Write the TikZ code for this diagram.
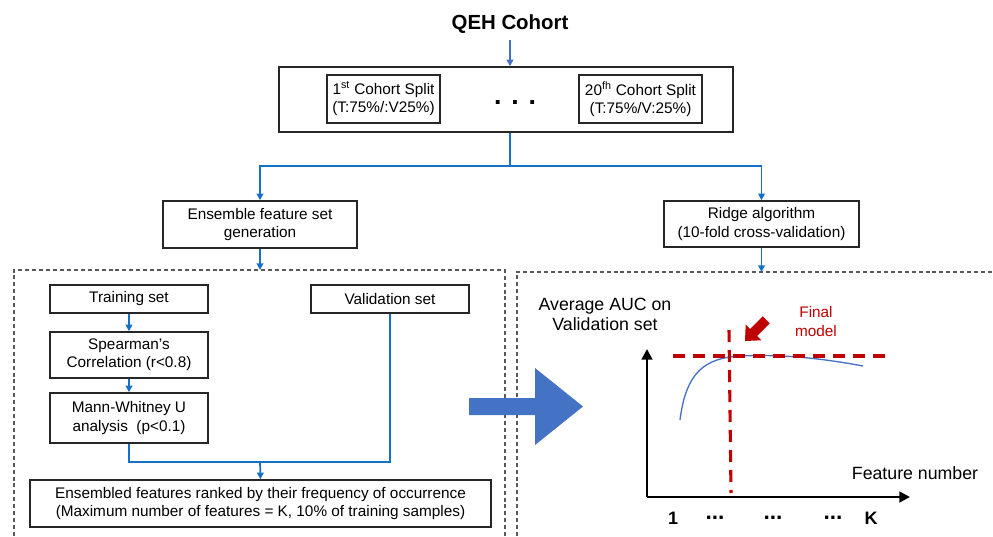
\documentclass[tikz,border=0pt]{standalone}
\usepackage{fontspec}
\setmainfont{Liberation Sans}
\usetikzlibrary{arrows.meta}
\definecolor{conblue}{RGB}{22,112,200}
\definecolor{lblue}{HTML}{4472C4}
\definecolor{dred}{HTML}{C00000}
\definecolor{bord}{HTML}{262626}
\definecolor{dgray}{HTML}{595959}
\begin{document}
\begin{tikzpicture}[x=0.75pt,y=-0.75pt,
  sz/.style 2 args={minimum width=#1*0.75pt, minimum height=#2*0.75pt},
  txt/.style={font=\fontsize{11.5}{13.8}\selectfont, align=center, inner sep=0pt},
  bigtxt/.style={font=\fontsize{13.3}{15.5}\selectfont, align=center, inner sep=0pt},
  bx/.style={txt, draw=bord, line width=1.1pt},
  tbx/.style={txt, draw=bord, line width=1.8pt},
  con/.style={draw=conblue, line width=1.3pt},
  arr/.style={con, -{Triangle[length=5pt,width=5pt]}},
  dashbox/.style={draw=dgray, line width=0.8pt, dash pattern=on 3pt off 2.2pt},
  reddash/.style={draw=dred, line width=2.3pt, dash pattern=on 9pt off 6pt},
  axis/.style={draw=black, line width=1.9pt, -{Triangle[length=8pt,width=8pt]}},
  ticklab/.style={font=\bfseries\fontsize{13.5}{16}\selectfont, inner sep=0pt},
  tickdots/.style={font=\bfseries\fontsize{17}{17}\selectfont, inner sep=0pt}]
\useasboundingbox (0,0) rectangle (993,536);

% title and top block
\node[font=\bfseries\fontsize{15.3}{18}\selectfont, inner sep=0pt] (qeh) at (510,24) {QEH Cohort};
\node[bx, sz={454}{65}] (top) at (506,99.5) {};
\node[tbx, sz={113}{48}] (s1) at (383.5,99) {1\textsuperscript{st} Cohort Split\\(T:75\%/:V25\%)};
\node[tbx, sz={123}{48}] (s20) at (640.5,99) {20\textsuperscript{fh} Cohort Split\\(T:75\%/V:25\%)};
\node[font=\bfseries\fontsize{20}{20}\selectfont, inner sep=0pt] (dots) at (515,103) {. . .};

\draw[arr, draw=lblue] ([yshift=-5pt]qeh.south) -- (top.north -| qeh);

% second level
\node[bx, sz={194}{47}] (ens) at (260,224.5) {Ensemble feature set\\generation};
\node[bx, sz={195}{46}] (ridge) at (761.5,224) {Ridge algorithm\\(10-fold cross-validation)};
\coordinate (j1) at (510,166);
\draw[con] (top.south -| j1) -- (j1);
\draw[arr] (j1) -| (ens.north);
\draw[arr] (j1) -| (ridge.north);

% dashed regions
\draw[dashbox] (14,536) -- (14,270) -- (505,270) -- (505,536);
\draw[dashbox] (517,536) -- (517,272) -- (993,272);
\coordinate (dl) at (260,270);
\coordinate (dr) at (761.5,272);
\draw[arr] (ens.south) -- (dl);
\draw[arr] (ridge.south) -- (dr);

% left flow
\node[bx, sz={158}{28}] (train) at (129,299) {Training set};
\node[bx, sz={158}{46}] (spear) at (129,355) {Spearman's\\Correlation (r<0.8)};
\node[bx, sz={158}{50}] (mann) at (129,418) {Mann-Whitney U\\analysis\ \ (p<0.1)};
\node[bx, sz={158}{28}] (valid) at (390,299) {Validation set};
\node[bx, sz={461}{47}] (ensd) at (260.5,503.5) {Ensembled features ranked by their frequency of occurrence\\(Maximum number of features = K, 10\% of training samples)};
\draw[arr] (train) -- (spear);
\draw[arr] (spear) -- (mann);
\coordinate (j2) at (260,462);
\draw[con] (mann.south) |- (j2) -| (valid.south);
\draw[arr] (j2) -- (ensd.north);

% big arrow
\fill[lblue] (469,398) -- (535,398) -- (535,368) -- (583,406.5) -- (535,445) -- (535,415) -- (469,415) -- cycle;

% chart
\coordinate (o) at (647,497);
\coordinate (ytop) at (647,349);
\coordinate (xend) at (910,497);
\draw[axis] (o) -- (ytop);
\draw[axis] (o) -- (xend);
\draw[lblue, line width=1pt] (680,420) .. controls (686,372) and (705,358) .. (740,356) .. controls (780,354) and (820,358) .. (863,366);
\coordinate (h1) at (673,356);
\coordinate (h2) at (887,356);
\coordinate (v1) at (729,330);
\coordinate (v2) at (731,493);
\draw[reddash] (h1) -- (h2);
\draw[reddash] (v1) -- (v2);
\fill[dred] (745,341) -- (761.3,340.3) -- (757,336) -- (769.7,323.3) -- (762.7,316.3) -- (750,329) -- (745.7,324.7) -- cycle;
\node[txt, text=dred] (final) at (816,321.5) {Final\\model};
\node[bigtxt] (auc) at (605,314.5) {Average AUC on\\Validation set};
\node[bigtxt] (fnum) at (915,473) {Feature number};
\node[ticklab] (l1) at (673,518) {1};
\node[tickdots] (l2) at (715,518) {...};
\node[tickdots] (l3) at (773,518) {...};
\node[tickdots] (l4) at (833,518) {...};
\node[ticklab] (lk) at (871,518) {K};
\end{tikzpicture}
\end{document}
